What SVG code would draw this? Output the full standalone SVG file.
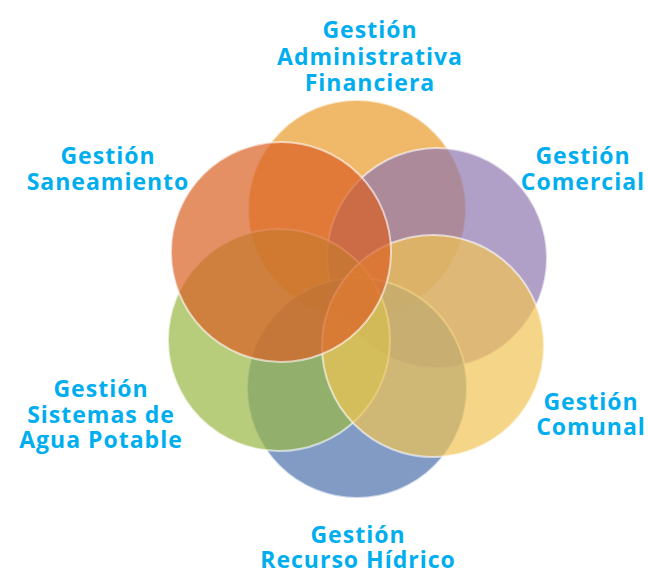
<svg xmlns="http://www.w3.org/2000/svg" width="648" height="574" viewBox="0 0 648 574">
<style>
.c{fill-opacity:0.7;stroke:#ffffff;stroke-opacity:0.6;stroke-width:2}
.t{font-family:"Open Sans","Lato","DejaVu Sans",sans-serif;font-weight:700;font-size:23px;fill:#00AEEF;text-anchor:middle;letter-spacing:1px}
</style>
<rect width="648" height="574" fill="#ffffff"/>
<g id="circles">
<g id="n-financiera"><circle class="c" cx="357" cy="209" r="109" fill="#EA9B2A"/></g>
<g id="n-comercial"><circle class="c" cx="437" cy="258" r="110" fill="#8E76AE"/></g>
<g id="n-hidrico"><circle class="c" cx="357" cy="388" r="110" fill="#4C70AC"/></g>
<g id="n-agua"><circle class="c" cx="279" cy="340" r="111" fill="#9AB844"/></g>
<g id="n-comunal"><circle class="c" cx="433" cy="346" r="111" fill="#F1C354"/></g>
<g id="n-saneamiento"><circle class="c" cx="281" cy="252" r="110" fill="#DA6024" stroke-opacity="0.75" stroke-width="2.5"/></g>
</g>
<g id="connectors"></g>
<g id="labels">
<g id="l-financiera"><text class="t" x="370" y="38">Gestión</text><text class="t" x="370" y="65">Administrativa</text><text class="t" x="370" y="91">Financiera</text></g>
<g id="l-saneamiento"><text class="t" x="108" y="164">Gestión</text><text class="t" x="108" y="190">Saneamiento</text></g>
<g id="l-comercial"><text class="t" x="583" y="164">Gestión</text><text class="t" x="583" y="190">Comercial</text></g>
<g id="l-agua"><text class="t" x="101" y="397">Gestión</text><text class="t" x="101" y="423">Sistemas de</text><text class="t" x="101" y="448">Agua Potable</text></g>
<g id="l-comunal"><text class="t" x="591" y="410">Gestión</text><text class="t" x="591" y="435">Comunal</text></g>
<g id="l-hidrico"><text class="t" x="358" y="543">Gestión</text><text class="t" x="358" y="568">Recurso Hídrico</text></g>
</g>
</svg>
